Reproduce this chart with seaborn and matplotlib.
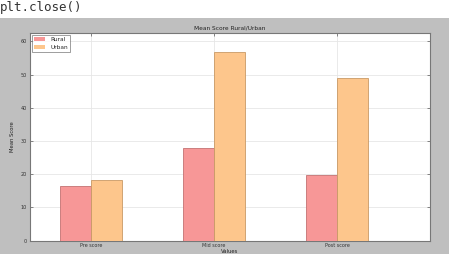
import numpy as np
import pandas as pd
import matplotlib
matplotlib.use('Agg')
import matplotlib.pyplot as plt
import seaborn as sns
from matplotlib.patches import Rectangle

categories = ['Pre score', 'Mid score', 'Post score']
rural = [16.5, 27.8, 19.7]
urban = [18.3, 56.9, 48.9]
groups = ['Rural', 'Urban']

df = pd.DataFrame({
    'Values': categories * 2,
    'Mean Score': rural + urban,
    'group': ['Rural'] * 3 + ['Urban'] * 3,
})

sns.set_style('white')
plt.rcParams['font.family'] = ['DejaVu Sans']

fig = plt.figure(figsize=(4.54, 2.54), dpi=100, facecolor='white')
# grey notebook output area
fig.patches.append(Rectangle((0, 0), 449 / 454, 236 / 254, transform=fig.transFigure,
                             facecolor='#bfbfbf', edgecolor='none', zorder=-10))
fig.text(0.0, 1 - 7 / 254, 'plt.close()', family='DejaVu Sans Mono', fontsize=9,
         va='center', ha='left', color='#333333')

ax = fig.add_axes([30 / 454, 13.3 / 254, 400 / 454, 207.4 / 254])
ax.set_facecolor('white')
sns.barplot(data=df, x='Values', y='Mean Score', hue='group', order=categories,
            hue_order=groups, palette=['#f79797', '#fdc68c'], width=0.5, gap=0,
            linewidth=0.6, saturation=1, ax=ax, zorder=3)
edge_cols = {'#f79797': '#c47272', '#fdc68c': '#c99a66'}
for cont, ec in zip(ax.containers, ['#c47272', '#c99a66']):
    for bar in cont:
        bar.set_edgecolor(ec)

ax.set_xlim(-0.496, 2.756)
ax.set_ylim(0, 62.4)
ax.set_yticks(range(0, 61, 10))
ax.grid(True, color='#e6e6e6', linewidth=0.6, zorder=0)
ax.set_axisbelow(True)
ax.tick_params(labelsize=3.5, length=2, width=0.4, direction='in', pad=2,
               right=True, top=True, left=True, bottom=True, colors='#333333')
for s in ax.spines.values():
    s.set_color('#777777')
    s.set_linewidth(0.8)
ax.set_title('Mean Score Rural/Urban', fontsize=4.2, pad=3, color='#222222')
ax.set_xlabel('Values', fontsize=3.8, labelpad=0.5, color='#222222')
ax.set_ylabel('Mean Score', fontsize=3.8, labelpad=4, color='#222222')
ax.legend(loc='upper left', fontsize=4.2, frameon=True, fancybox=False,
          edgecolor='#555555', borderpad=0.35, handlelength=2.0, borderaxespad=0.3)
ax.get_legend().get_frame().set_linewidth(0.5)
for h in ax.get_legend().get_patches():
    h.set_edgecolor('none')

fig.savefig('out.png', dpi=100, facecolor='white')
